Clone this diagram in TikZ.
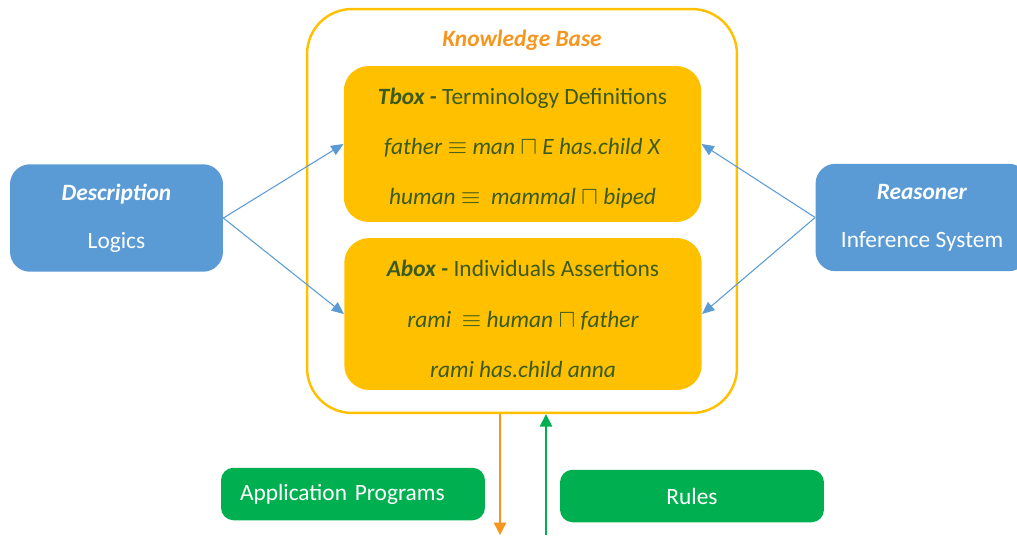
\documentclass[tikz,border=0pt]{standalone}
\usepackage{amsmath}
\usepackage{amssymb}
\usepackage{fontspec}
\setmainfont{Carlito}
\usepackage{xcolor}
\usepackage{tikz}
\usetikzlibrary{shapes.geometric, calc}
\usetikzlibrary{arrows.meta}

\begin{document}
\begin{tikzpicture}[x=0.02cm, y=-0.02cm]
\definecolor{c1}{RGB}{255,192,0}
\definecolor{c2}{RGB}{91,155,213}
\definecolor{c3}{RGB}{0,176,80}
\definecolor{c4}{RGB}{59,91,30}
\definecolor{c5}{RGB}{247,150,30}
\tikzset{
  kbframe/.style={draw=c1, line width=1.4pt, rounded corners=0.9cm, minimum width=8.6cm, minimum height=8.08cm},
  yellowbox/.style={fill=c1, rounded corners=0.5cm, minimum width=7.15cm, text=c4, align=center, font=\fontsize{13.3}{28.6}\selectfont},
  bluebox/.style={fill=c2, rounded corners=0.4cm, minimum width=4.26cm, minimum height=2.15cm, text=white, align=center, font=\fontsize{13.3}{27.5}\selectfont},
  greenbox/.style={fill=c3, rounded corners=0.25cm, minimum width=5.28cm, minimum height=1.05cm, text=white, font=\fontsize{13.3}{16}\selectfont},
  bluearrow/.style={draw=c2, line width=0.6pt, -{Triangle[length=7pt, width=6pt]}},
}
\useasboundingbox (0,0) rectangle (1017,535);

\node[kbframe] (kb) at (522,211) {};
\node[text=c5, font=\fontsize{13.3}{16}\selectfont\bfseries\itshape] (kbtitle) at (522,40) {Knowledge Base};

\node[yellowbox, minimum height=3.12cm] (tbox) at (522.5,144) {\rule{0pt}{14pt}\textbf{\textit{Tbox -}} Terminology Definitions\\
\textit{father} $\equiv$ \textit{man} $\sqcap$ \textit{E has.child X}\\
\textit{human} $\equiv$~ \textit{mammal} $\sqcap$ \textit{biped}};
\node[yellowbox, minimum height=3.04cm] (abox) at (523,314) {\rule{0pt}{15pt}\textbf{\textit{Abox -}} Individuals Assertions\\
\textit{rami}~ $\equiv$ \textit{human} $\sqcap$ \textit{father}\\
\textit{rami has.child anna}};

\node[bluebox] (desc) at (116.5,218) {\textbf{\textit{Description}}\\ Logics};
\node[bluebox] (reas) at (922,217.5) {\textbf{\textit{Reasoner}}\\ Inference System};

\node[greenbox, text width=4.52cm, align=left, inner xsep=0.38cm] (app) at (353,494) {Application Programs};
\node[greenbox, align=center] (rules) at (692,496) {Rules};

\draw[bluearrow] (desc.east) -- (tbox.west);
\draw[bluearrow] (desc.east) -- (abox.west);
\draw[bluearrow] (reas.west) -- (tbox.east);
\draw[bluearrow] (reas.west) -- (abox.east);

\coordinate (B0) at (500,535);
\coordinate (B1) at (546,535);
\draw[draw=c5, line width=0.8pt, -{Triangle[length=7pt, width=7pt]}] (kb.south -| B0) -- (B0);
\draw[draw=c3, line width=0.8pt, -{Triangle[length=7pt, width=7pt]}] (B1) -- (kb.south -| B1);
\end{tikzpicture}
\end{document}
